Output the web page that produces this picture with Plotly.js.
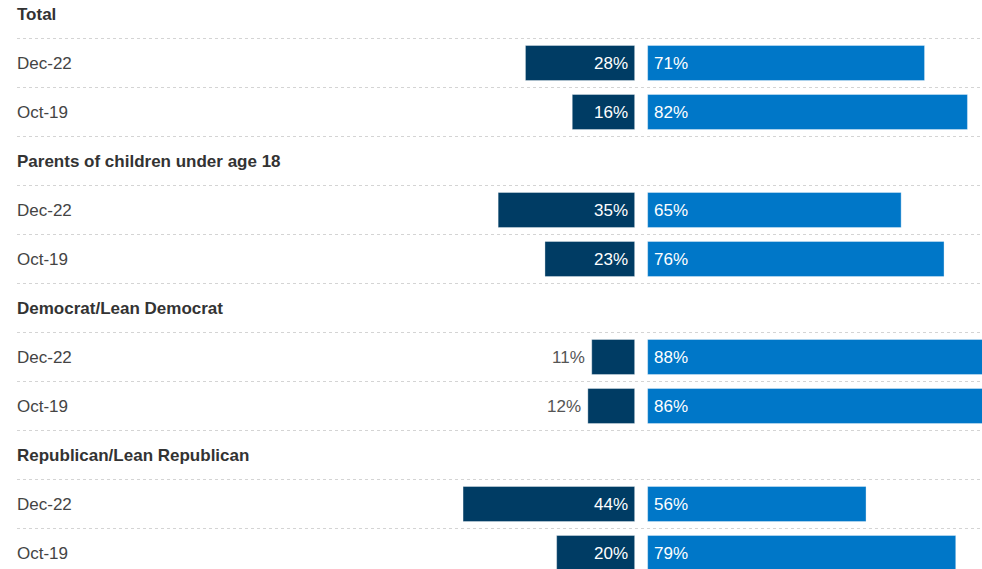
<!DOCTYPE html>
<html>
<head>
<meta charset="utf-8">
<script src="https://cdn.plot.ly/plotly-3.0.1.min.js"></script>
<style>
  html, body { margin: 0; padding: 0; background: #fff; }
  #chart { width: 982px; height: 569px; }
</style>
</head>
<body>
<div id="chart"></div>
<script>
// ---- data ----
var groups = ["Total", "Parents of children under age 18", "Democrat/Lean Democrat", "Republican/Lean Republican"];
var periods = ["Dec-22", "Oct-19"];
var leftValues = [28, 16, 35, 23, 11, 12, 44, 20];   // dark navy series
var rightValues = [71, 82, 65, 76, 88, 86, 56, 79];  // bright blue series

// ---- styles ----
var darkColor = "#003c64";
var blueColor = "#0077c8";
var fontFam = "Liberation Sans, Arial, Helvetica, sans-serif";
var fs = 17;
var halfGap = 1.667;          // half gap between the two bars, in axis units
var outsideThreshold = 14;     // small left bars show label outside
var labelX = 15 / 982;

// Build rows: header row, then one row per period
var barY = [], annotations = [], shapes = [];
var row = 0, k = 0;
groups.forEach(function (g) {
  annotations.push({
    x: labelX, xref: "paper", xanchor: "left",
    y: row, yref: "y", yanchor: "middle",
    text: "<b>" + g + "</b>", showarrow: false,
    font: {family: fontFam, size: fs, color: "#333333"}
  });
  row++;
  periods.forEach(function (p) {
    annotations.push({
      x: labelX, xref: "paper", xanchor: "left",
      y: row, yref: "y", yanchor: "middle",
      text: p, showarrow: false,
      font: {family: fontFam, size: fs, color: "#444444"}
    });
    barY.push(row);
    var lv = leftValues[k], rv = rightValues[k];
    if (lv < outsideThreshold) {
      annotations.push({
        x: -halfGap - lv, xref: "x", xanchor: "right", xshift: -5,
        y: row, yref: "y", yanchor: "middle",
        text: lv + "%", showarrow: false,
        font: {family: fontFam, size: fs, color: "#555555"}
      });
    } else {
      annotations.push({
        x: -halfGap, xref: "x", xanchor: "right", xshift: -5,
        y: row, yref: "y", yanchor: "middle",
        text: lv + "%", showarrow: false,
        font: {family: fontFam, size: fs, color: "#ffffff"}
      });
    }
    annotations.push({
      x: halfGap, xref: "x", xanchor: "left", xshift: 4,
      y: row, yref: "y", yanchor: "middle",
      text: rv + "%", showarrow: false,
      font: {family: fontFam, size: fs, color: "#ffffff"}
    });
    row++; k++;
  });
});
var nRows = row;
for (var i = 0; i < nRows - 1; i++) {
  shapes.push({
    type: "line", xref: "paper", yref: "y",
    x0: 17 / 982, x1: 1, y0: i + 0.5, y1: i + 0.5,
    line: {color: "#d4d4d4", width: 1, dash: "dot"},
    layer: "below"
  });
}

var traces = [
  {
    type: "bar", orientation: "h",
    y: barY,
    x: leftValues.map(function (v) { return -v; }),
    base: leftValues.map(function () { return -halfGap; }),
    width: 0.714,
    marker: {color: darkColor, line: {color: "rgba(255,255,255,0.35)", width: 1}},
    hoverinfo: "skip"
  },
  {
    type: "bar", orientation: "h",
    y: barY,
    x: rightValues,
    base: rightValues.map(function () { return halfGap; }),
    width: 0.714,
    marker: {color: blueColor, line: {color: "rgba(255,255,255,0.35)", width: 1}},
    hoverinfo: "skip"
  }
];

var layout = {
  width: 982, height: 569,
  margin: {l: 0, r: 0, t: 0, b: 0, pad: 0},
  paper_bgcolor: "#ffffff", plot_bgcolor: "#ffffff",
  showlegend: false,
  barmode: "overlay",
  xaxis: {range: [-164.4, 87.4], visible: false, fixedrange: true},
  yaxis: {range: [(569 - 14) / 49, -14 / 49], visible: false, fixedrange: true},
  annotations: annotations,
  shapes: shapes,
  font: {family: fontFam}
};

Plotly.newPlot("chart", traces, layout, {staticPlot: true, displayModeBar: false});
</script>
</body>
</html>
